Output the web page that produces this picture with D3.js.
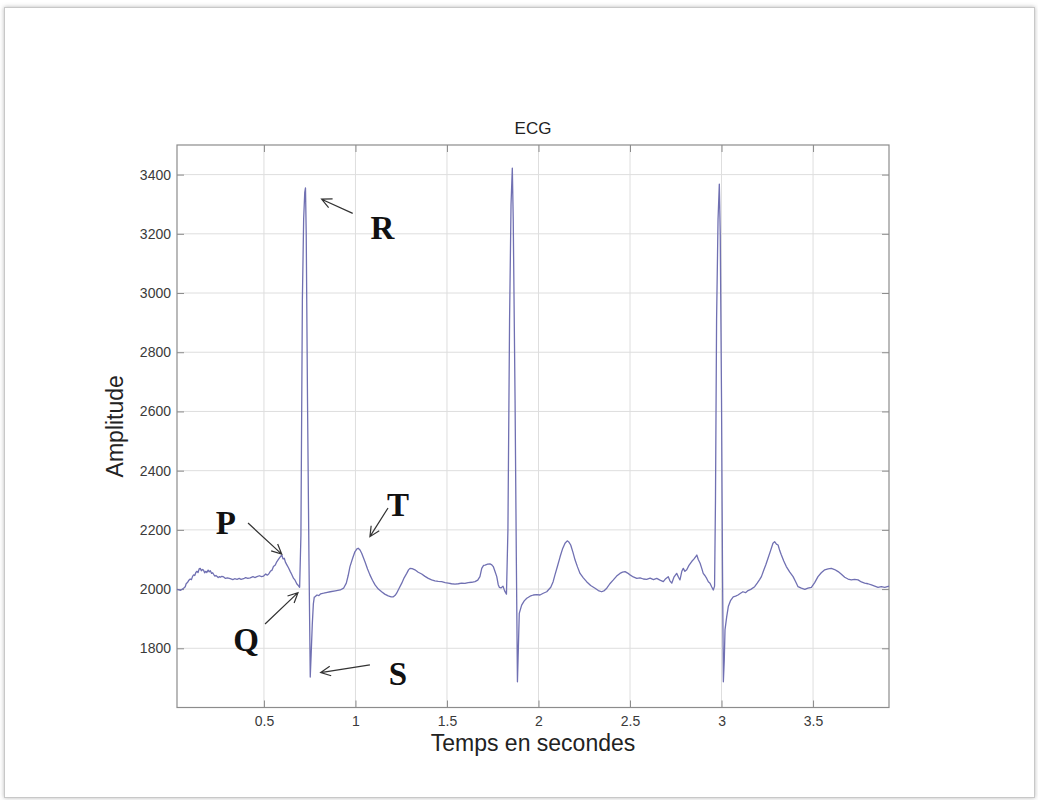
<!DOCTYPE html>
<html>
<head>
<meta charset="utf-8">
<script src="https://cdn.jsdelivr.net/npm/d3@7"></script>
<style>
  body { margin: 0; background: #fff; }
  svg text { font-family: "Liberation Sans", Arial, sans-serif; }
</style>
</head>
<body>
<div id="chart"></div>
<script>
// ECG trace (time in s, amplitude in raw units)
const timeSec = [
  0.025, 0.045, 0.061, 0.070, 0.075, 0.082, 0.090, 0.097, 0.104, 0.110,
  0.116, 0.122, 0.128, 0.134, 0.140, 0.146, 0.152, 0.158, 0.164, 0.170,
  0.176, 0.182, 0.188, 0.195, 0.201, 0.207, 0.214, 0.220, 0.225, 0.232,
  0.238, 0.243, 0.250, 0.256, 0.261, 0.270, 0.280, 0.290, 0.300, 0.316,
  0.330, 0.340, 0.353, 0.365, 0.375, 0.389, 0.400, 0.412, 0.425, 0.440,
  0.450, 0.462, 0.475, 0.487, 0.498, 0.510, 0.518, 0.526, 0.535, 0.544,
  0.552, 0.562, 0.570, 0.580, 0.588, 0.598, 0.604, 0.611, 0.618, 0.626,
  0.634, 0.644, 0.650, 0.662, 0.670, 0.680, 0.688, 0.695,
  0.702, 0.710, 0.717, 0.723, 0.727, 0.731, 0.738, 0.746, 0.753, 0.758,
  0.764, 0.770, 0.775, 0.779, 0.790, 0.800, 0.810, 0.826, 0.840, 0.862,
  0.890, 0.917, 0.935, 0.950, 0.960, 0.970, 0.985, 0.997, 1.008, 1.015,
  1.025, 1.034, 1.052, 1.066, 1.079, 1.093, 1.107, 1.125, 1.143, 1.160,
  1.179, 1.195, 1.207, 1.217, 1.225, 1.238, 1.253, 1.266, 1.280, 1.290,
  1.298, 1.310, 1.325, 1.343, 1.362, 1.380, 1.398, 1.416, 1.434, 1.452,
  1.471, 1.490, 1.507, 1.525, 1.544, 1.562, 1.580, 1.598, 1.616, 1.635,
  1.653, 1.668, 1.680, 1.690, 1.700, 1.708, 1.722, 1.735, 1.745, 1.753,
  1.762, 1.772, 1.780, 1.786, 1.795, 1.806, 1.815, 1.825,
  1.833, 1.842, 1.850, 1.857, 1.862, 1.872, 1.879, 1.885, 1.890, 1.895,
  1.908, 1.922, 1.936, 1.954, 1.972, 1.990, 2.008, 2.026, 2.045, 2.067,
  2.080, 2.090, 2.104, 2.118, 2.131, 2.145, 2.157, 2.167, 2.176, 2.188,
  2.200, 2.213, 2.227, 2.245, 2.263, 2.285, 2.309, 2.327, 2.345, 2.360,
  2.373, 2.390, 2.409, 2.427, 2.445, 2.459, 2.473, 2.487, 2.500, 2.518,
  2.537, 2.555, 2.573, 2.591, 2.610, 2.628, 2.646, 2.664, 2.682, 2.695,
  2.709, 2.718, 2.728, 2.740, 2.755, 2.765, 2.773, 2.783, 2.791, 2.800,
  2.810, 2.822, 2.837, 2.850, 2.865, 2.873, 2.883, 2.892, 2.900, 2.910,
  2.919, 2.928, 2.937, 2.946, 2.955, 2.962,
  2.967, 2.973, 2.981, 2.988, 2.993, 3.000, 3.005, 3.010, 3.015, 3.019,
  3.028, 3.037, 3.050, 3.064, 3.077, 3.090, 3.104, 3.117, 3.131, 3.145,
  3.160, 3.181, 3.195, 3.208, 3.218, 3.230, 3.242, 3.254, 3.268, 3.281,
  3.290, 3.300, 3.309, 3.318, 3.327, 3.340, 3.354, 3.372, 3.391, 3.405,
  3.418, 3.436, 3.455, 3.472, 3.491, 3.509, 3.527, 3.545, 3.564, 3.582,
  3.600, 3.618, 3.637, 3.655, 3.673, 3.691, 3.709, 3.727, 3.746, 3.764,
  3.782, 3.800, 3.819, 3.837, 3.855, 3.873, 3.892, 3.915
];
const amplitude = [
  1999, 1996, 2003, 2008, 2018, 2022, 2030, 2034, 2032, 2043,
  2048, 2046, 2056, 2060, 2056, 2068, 2070, 2062, 2066, 2064,
  2055, 2060, 2056, 2064, 2058, 2062, 2053, 2055, 2050, 2044,
  2046, 2043, 2039, 2042, 2040, 2043, 2041, 2036, 2038, 2035,
  2032, 2035, 2033, 2036, 2033, 2035, 2039, 2036, 2038, 2042,
  2039, 2042, 2045, 2042, 2044, 2051, 2047, 2051, 2060, 2064,
  2076, 2081, 2092, 2101, 2108, 2115, 2102, 2104, 2090, 2081,
  2072, 2059, 2052, 2036, 2030, 2017, 2012, 2006,
  2180, 2977, 3250, 3340, 3355, 3200, 2639, 2100, 1703, 1780,
  1879, 1950, 1973, 1974, 1980, 1978, 1984, 1986, 1988, 1991,
  1994, 1997, 2003, 2020, 2045, 2076, 2105, 2126, 2136, 2138,
  2132, 2121, 2092, 2068, 2048, 2030, 2014, 2000, 1991, 1983,
  1977, 1974, 1974, 1979, 1986, 2002, 2020, 2038, 2053, 2065,
  2070, 2069, 2065, 2057, 2051, 2043, 2036, 2031, 2028, 2026,
  2025, 2022, 2020, 2018, 2017, 2018, 2020, 2019, 2022, 2023,
  2025, 2030, 2042, 2070, 2080, 2081, 2084, 2085, 2082, 2076,
  2060, 2042, 2015, 2006, 2004, 2010, 1994, 1983,
  2200, 2909, 3300, 3422, 3250, 2639, 2100, 1687, 1800, 1918,
  1946, 1960, 1969, 1976, 1980, 1981, 1980, 1986, 1991, 2006,
  2025, 2048, 2078, 2109, 2135, 2155, 2163, 2158, 2149, 2125,
  2098, 2075, 2053, 2038, 2025, 2012, 2003, 1995, 1991, 1995,
  2003, 2018, 2031, 2044, 2053, 2057, 2059, 2054, 2048, 2041,
  2036, 2038, 2034, 2033, 2037, 2032, 2036, 2030, 2025, 2035,
  2042, 2028, 2020, 2040, 2053, 2040, 2031, 2060, 2070, 2060,
  2065, 2080, 2093, 2102, 2115, 2100, 2087, 2070, 2053, 2045,
  2036, 2025, 2020, 2008, 1997, 2010,
  2300, 2909, 3250, 3368, 3200, 2639, 2100, 1687, 1760, 1862,
  1905, 1941, 1962, 1974, 1976, 1980, 1986, 1991, 1988, 1995,
  1999, 2008, 2020, 2032, 2042, 2063, 2082, 2104, 2130, 2155,
  2160, 2152, 2149, 2130, 2115, 2095, 2076, 2058, 2042, 2025,
  2008, 2003, 1999, 2003, 2006, 2022, 2042, 2055, 2065, 2068,
  2070, 2066, 2059, 2050, 2040, 2034, 2031, 2033, 2031, 2024,
  2020, 2018, 2014, 2010, 2006, 2008, 2006, 2010
];

const xTicks = [0.5, 1, 1.5, 2, 2.5, 3, 3.5];
const yTicks = [1800, 2000, 2200, 2400, 2600, 2800, 3000, 3200, 3400];

// wave labels and their arrows, in data units
const waveLabels = ["P", "Q", "R", "S", "T"];
const labelTime = [0.292, 0.402, 1.148, 1.232, 1.232];
const labelAmp = [2186, 1791, 3182, 1676, 2247];
const arrowFromTime = [0.413, 0.506, 0.985, 1.079, 1.178];
const arrowFromAmp = [2223, 1882, 3269, 1744, 2274];
const arrowToTime = [0.597, 0.686, 0.815, 0.810, 1.079];
const arrowToAmp = [2118, 1988, 3317, 1718, 2177];

const TITLE = "ECG";
const X_LABEL = "Temps en secondes";
const Y_LABEL = "Amplitude";

const WIDTH = 1038;
const HEIGHT = 800;
const plot = { left: 177, top: 145, right: 889, bottom: 707.5 };

const svg = d3.select("#chart")
    .append("svg")
    .attr("width", WIDTH)
    .attr("height", HEIGHT);

// soft photo-like frame
const defs = svg.append("defs");
const shadow = defs.append("filter").attr("id", "shadow")
    .attr("x", "-5%").attr("y", "-5%").attr("width", "110%").attr("height", "110%");
shadow.append("feDropShadow")
    .attr("dx", 0).attr("dy", 0).attr("stdDeviation", 2)
    .attr("flood-color", "#888").attr("flood-opacity", 0.6);

svg.append("rect")
    .attr("x", 4.5).attr("y", 7.5)
    .attr("width", 1030).attr("height", 790)
    .attr("fill", "#fff")
    .attr("stroke", "#c8c8c8")
    .attr("filter", "url(#shadow)");

const xScale = d3.scaleLinear()
    .domain([0.025, 3.915])
    .range([plot.left, plot.right]);

const yScale = d3.scaleLinear()
    .domain([1600, 3500])
    .range([plot.bottom, plot.top]);

// grid
const grid = svg.append("g").attr("stroke", "#dedede").attr("stroke-width", 1);
grid.selectAll(".gx").data(xTicks).enter().append("line")
    .attr("x1", d => xScale(d)).attr("x2", d => xScale(d))
    .attr("y1", plot.top).attr("y2", plot.bottom);
grid.selectAll(".gy").data(yTicks).enter().append("line")
    .attr("x1", plot.left).attr("x2", plot.right)
    .attr("y1", d => yScale(d)).attr("y2", d => yScale(d));

// axes, matlab style: ticks pointing inward on all four sides
function styleAxis(g) {
    g.select(".domain").remove();
    g.selectAll(".tick line").attr("stroke", "#8c8c8c");
    g.selectAll(".tick text")
        .attr("fill", "#3a3a3a")
        .style("font-size", "14px");
}

svg.append("g")
    .attr("transform", `translate(0,${plot.bottom})`)
    .call(d3.axisBottom(xScale).tickValues(xTicks).tickSize(-7).tickPadding(9)
        .tickFormat(d3.format("")))
    .call(styleAxis);
svg.append("g")
    .attr("transform", `translate(0,${plot.top})`)
    .call(d3.axisTop(xScale).tickValues(xTicks).tickSize(-7).tickFormat(""))
    .call(styleAxis);
svg.append("g")
    .attr("transform", `translate(${plot.left},0)`)
    .call(d3.axisLeft(yScale).tickValues(yTicks).tickSize(-7).tickPadding(6)
        .tickFormat(d3.format("d")))
    .call(styleAxis);
svg.append("g")
    .attr("transform", `translate(${plot.right},0)`)
    .call(d3.axisRight(yScale).tickValues(yTicks).tickSize(-7).tickFormat(""))
    .call(styleAxis);

svg.append("rect")
    .attr("x", plot.left).attr("y", plot.top)
    .attr("width", plot.right - plot.left)
    .attr("height", plot.bottom - plot.top)
    .attr("fill", "none")
    .attr("stroke", "#8c8c8c")
    .attr("stroke-width", 1.2);

// the trace
const points = timeSec.map((t, i) => ({ t: t, v: amplitude[i] }));
svg.append("path")
    .datum(points)
    .attr("fill", "none")
    .attr("stroke", "#7070b2")
    .attr("stroke-width", 1.3)
    .attr("stroke-linejoin", "round")
    .attr("d", d3.line().x(d => xScale(d.t)).y(d => yScale(d.v)));

// titles
svg.append("text")
    .attr("x", (plot.left + plot.right) / 2)
    .attr("y", 134)
    .attr("text-anchor", "middle")
    .attr("fill", "#222")
    .style("font-size", "17px")
    .text(TITLE);

svg.append("text")
    .attr("x", (plot.left + plot.right) / 2)
    .attr("y", 751)
    .attr("text-anchor", "middle")
    .attr("fill", "#222")
    .style("font-size", "23px")
    .text(X_LABEL);

svg.append("text")
    .attr("transform", `translate(123,${(plot.top + plot.bottom) / 2}) rotate(-90)`)
    .attr("text-anchor", "middle")
    .attr("fill", "#222")
    .style("font-size", "23px")
    .text(Y_LABEL);

// wave annotations
const notes = waveLabels.map((label, i) => ({
    label: label,
    x: xScale(labelTime[i]), y: yScale(labelAmp[i]),
    x1: xScale(arrowFromTime[i]), y1: yScale(arrowFromAmp[i]),
    x2: xScale(arrowToTime[i]), y2: yScale(arrowToAmp[i])
}));

svg.selectAll(".wave-label").data(notes).enter().append("text")
    .attr("class", "wave-label")
    .attr("x", d => d.x).attr("y", d => d.y)
    .attr("text-anchor", "middle")
    .attr("fill", "#111")
    .style("font-family", "'Liberation Serif', 'Times New Roman', serif")
    .style("font-weight", "bold")
    .style("font-size", "33px")
    .text(d => d.label);

function arrowPath(d) {
    const ang = Math.atan2(d.y2 - d.y1, d.x2 - d.x1);
    const len = 11, spread = 0.45;
    const ax = d.x2 - len * Math.cos(ang - spread), ay = d.y2 - len * Math.sin(ang - spread);
    const bx = d.x2 - len * Math.cos(ang + spread), by = d.y2 - len * Math.sin(ang + spread);
    return `M${d.x1},${d.y1}L${d.x2},${d.y2}M${ax},${ay}L${d.x2},${d.y2}L${bx},${by}`;
}

svg.selectAll(".wave-arrow").data(notes).enter().append("path")
    .attr("class", "wave-arrow")
    .attr("d", arrowPath)
    .attr("fill", "none")
    .attr("stroke", "#333")
    .attr("stroke-width", 1.2);
</script>
</body>
</html>
